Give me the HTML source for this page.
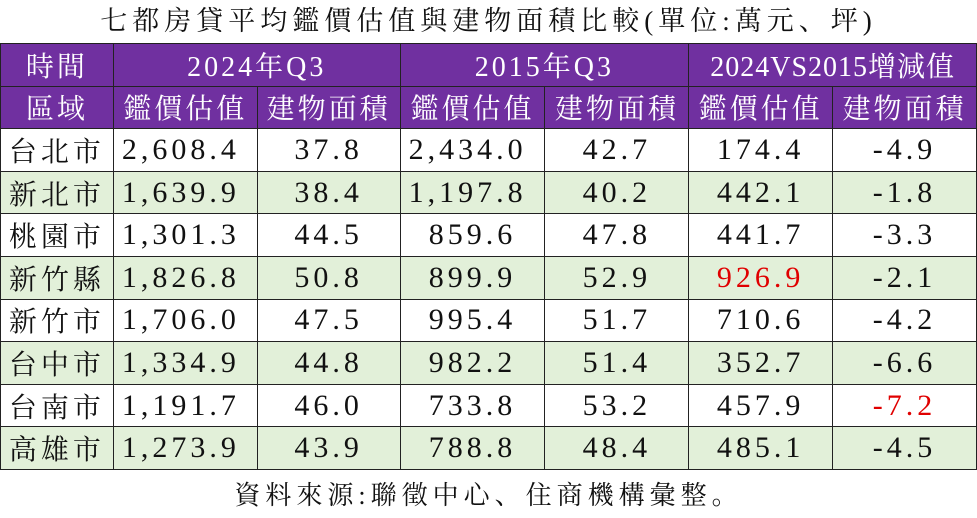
<!DOCTYPE html>
<html><head><meta charset="utf-8"><style>
body{margin:0;background:#fff;width:977px;height:517px;overflow:hidden;font-family:"Liberation Serif","Noto Serif CJK SC","Noto Serif CJK TC",serif;}
.title{position:absolute;left:0;top:0;width:977px;height:43px;line-height:42px;text-align:center;font-size:27px;letter-spacing:5px;color:#111;}
table{position:absolute;left:0;top:43px;border-collapse:collapse;table-layout:fixed;}
td{border:1.5px solid #222;height:41.6px;padding:0;font-size:28px;text-align:center;color:#111;white-space:nowrap;overflow:hidden;}
tr.h td{background:#7030a0;color:#fff;letter-spacing:3px;}
tr.g td{background:#e2f0d9;}
td.c{letter-spacing:4px;}
td.n{letter-spacing:4px;font-size:30px;}
td.l{text-align:left;padding-left:8px;}
.r{color:#e00000;}
.foot{position:absolute;left:0;top:476px;width:977px;height:42px;line-height:40px;text-align:center;font-size:26px;letter-spacing:5px;color:#111;}
</style></head><body>
<div class="title">七都房貸平均鑑價估值與建物面積比較(單位:萬元、坪)</div>
<table>
<colgroup><col style="width:113px"><col style="width:144px"><col style="width:143px"><col style="width:145px"><col style="width:144px"><col style="width:144px"><col style="width:144px"></colgroup>
<tr class="h"><td>時間</td><td colspan="2">2024年Q3</td><td colspan="2">2015年Q3</td><td colspan="2" style="letter-spacing:1px">2024VS2015增減值</td></tr>
<tr class="h"><td>區域</td><td>鑑價估值</td><td>建物面積</td><td>鑑價估值</td><td>建物面積</td><td>鑑價估值</td><td>建物面積</td></tr>
<tr><td class="c">台北市</td><td class="n l">2,608.4</td><td class="n">37.8</td><td class="n l">2,434.0</td><td class="n">42.7</td><td class="n">174.4</td><td class="n">-4.9</td></tr>
<tr class="g"><td class="c">新北市</td><td class="n l">1,639.9</td><td class="n">38.4</td><td class="n l">1,197.8</td><td class="n">40.2</td><td class="n">442.1</td><td class="n">-1.8</td></tr>
<tr><td class="c">桃園市</td><td class="n l">1,301.3</td><td class="n">44.5</td><td class="n">859.6</td><td class="n">47.8</td><td class="n">441.7</td><td class="n">-3.3</td></tr>
<tr class="g"><td class="c">新竹縣</td><td class="n l">1,826.8</td><td class="n">50.8</td><td class="n">899.9</td><td class="n">52.9</td><td class="n r">926.9</td><td class="n">-2.1</td></tr>
<tr><td class="c">新竹市</td><td class="n l">1,706.0</td><td class="n">47.5</td><td class="n">995.4</td><td class="n">51.7</td><td class="n">710.6</td><td class="n">-4.2</td></tr>
<tr class="g"><td class="c">台中市</td><td class="n l">1,334.9</td><td class="n">44.8</td><td class="n">982.2</td><td class="n">51.4</td><td class="n">352.7</td><td class="n">-6.6</td></tr>
<tr><td class="c">台南市</td><td class="n l">1,191.7</td><td class="n">46.0</td><td class="n">733.8</td><td class="n">53.2</td><td class="n">457.9</td><td class="n r">-7.2</td></tr>
<tr class="g"><td class="c">高雄市</td><td class="n l">1,273.9</td><td class="n">43.9</td><td class="n">788.8</td><td class="n">48.4</td><td class="n">485.1</td><td class="n">-4.5</td></tr>
</table>
<div class="foot">資料來源:聯徵中心、住商機構彙整。</div>
</body></html>
